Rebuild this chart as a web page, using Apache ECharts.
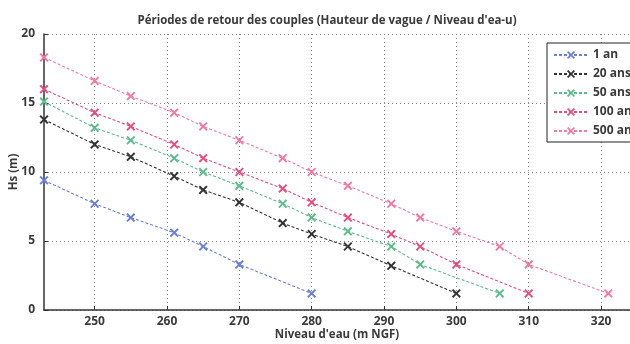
<!DOCTYPE html>
<html>
<head>
<meta charset="utf-8">
<script src="https://cdn.jsdelivr.net/npm/echarts@6/dist/echarts.min.js"></script>
<style>
  html, body { margin: 0; padding: 0; background: #fff; }
  #chart { width: 630px; height: 344px; }
</style>
</head>
<body>
<div id="chart"></div>
<script>
// niveau d'eau (m NGF) / Hs (m) pour chaque période de retour
var x_1an = [243, 250, 255, 261, 265, 270, 280];
var hs_1an = [9.4, 7.7, 6.7, 5.6, 4.6, 3.3, 1.2];
var x_20ans = [243, 250, 255, 261, 265, 270, 276, 280, 285, 291, 300];
var hs_20ans = [13.8, 12.0, 11.1, 9.7, 8.7, 7.8, 6.3, 5.5, 4.6, 3.2, 1.2];
var x_50ans = [243, 250, 255, 261, 265, 270, 276, 280, 285, 291, 295, 306];
var hs_50ans = [15.1, 13.2, 12.3, 11.0, 10.0, 9.0, 7.7, 6.7, 5.7, 4.6, 3.3, 1.2];
var x_100ans = [243, 250, 255, 261, 265, 270, 276, 280, 285, 291, 295, 300, 310];
var hs_100ans = [16.0, 14.3, 13.3, 12.0, 11.0, 10.0, 8.8, 7.8, 6.7, 5.5, 4.6, 3.3, 1.2];
var x_500ans = [243, 250, 255, 261, 265, 270, 276, 280, 285, 291, 295, 300, 306, 310, 321];
var hs_500ans = [18.3, 16.6, 15.5, 14.3, 13.3, 12.3, 11.0, 10.0, 9.0, 7.7, 6.7, 5.7, 4.6, 3.3, 1.2];

var xTicks = [250, 260, 270, 280, 290, 300, 310, 320];
var legendNames = ["1 an", "20 ans", "50 ans", "100 ans", "500 ans"];

var xSymbol = "path://M1.5,0 L5,3.5 L8.5,0 L10,1.5 L6.5,5 L10,8.5 L8.5,10 L5,6.5 L1.5,10 L0,8.5 L3.5,5 L0,1.5 Z";

function zip(xs, ys) {
  return xs.map(function (v, i) { return [v, ys[i]]; });
}

function serie(name, xs, ys, color) {
  return {
    name: name,
    type: "line",
    data: zip(xs, ys),
    symbol: xSymbol,
    symbolSize: 9,
    showAllSymbol: true,
    lineStyle: { color: color, width: 1.1, type: [3, 2] },
    itemStyle: { color: color },
  };
}

var myChart = echarts.init(document.getElementById("chart"));
var txt = "#3a3a3a";
var font = "Open Sans";
var option = {
  backgroundColor: "#fff",
  animation: false,
  title: {
    text: "Périodes de retour des couples (Hauteur de vague / Niveau d'ea-u)",
    left: 322,
    textAlign: "center",
    top: 10,
    textStyle: { fontFamily: font, fontSize: 11.5, fontWeight: "bold", color: txt },
  },
  grid: { left: 44, right: 0, top: 34, bottom: 34, outerBoundsMode: "none", containLabel: false },
  legend: {
    data: legendNames,
    orient: "vertical",
    left: 547,
    top: 43,
    itemWidth: 34,
    itemHeight: 10,
    itemGap: 7,
    padding: [6, 8, 5, 6],
    borderColor: "#222",
    borderWidth: 1,
    backgroundColor: "#fff",
    textStyle: { fontFamily: font, fontSize: 12, fontWeight: "bold", color: txt },
  },
  xAxis: {
    type: "value",
    min: 243,
    max: 324,
    name: "Niveau d'eau (m NGF)",
    nameLocation: "middle",
    nameGap: 19,
    nameMoveOverlap: false,
    nameTextStyle: { fontFamily: font, fontSize: 11.5, fontWeight: "bold", color: txt },
    axisLine: { lineStyle: { color: "#333", width: 1.5 } },
    axisTick: { customValues: xTicks, inside: true, length: 4, lineStyle: { color: "#333" } },
    axisLabel: { customValues: xTicks, fontFamily: font, fontSize: 12, fontWeight: "bold", color: txt, margin: 6 },
    splitLine: { show: true, lineStyle: { color: "#888", type: [1, 3], width: 1 } },
  },
  yAxis: {
    type: "value",
    min: 0,
    max: 20,
    interval: 5,
    name: "Hs (m)",
    nameLocation: "middle",
    nameGap: 24,
    nameMoveOverlap: false,
    nameTextStyle: { fontFamily: font, fontSize: 11.5, fontWeight: "bold", color: txt },
    axisLine: { show: true, lineStyle: { color: "#333", width: 1.5 } },
    axisTick: { show: true, inside: true, length: 4, lineStyle: { color: "#333" } },
    axisLabel: { fontFamily: font, fontSize: 12, fontWeight: "bold", color: txt, margin: 9 },
    splitLine: { show: true, lineStyle: { color: "#888", type: [1, 3], width: 1 } },
  },
  series: [
    serie("1 an", x_1an, hs_1an, "#6b80d0"),
    serie("20 ans", x_20ans, hs_20ans, "#333333"),
    serie("50 ans", x_50ans, hs_50ans, "#5dbb8c"),
    serie("100 ans", x_100ans, hs_100ans, "#e2507e"),
    serie("500 ans", x_500ans, hs_500ans, "#f07aa6"),
  ],
};
myChart.setOption(option);
</script>
</body>
</html>
